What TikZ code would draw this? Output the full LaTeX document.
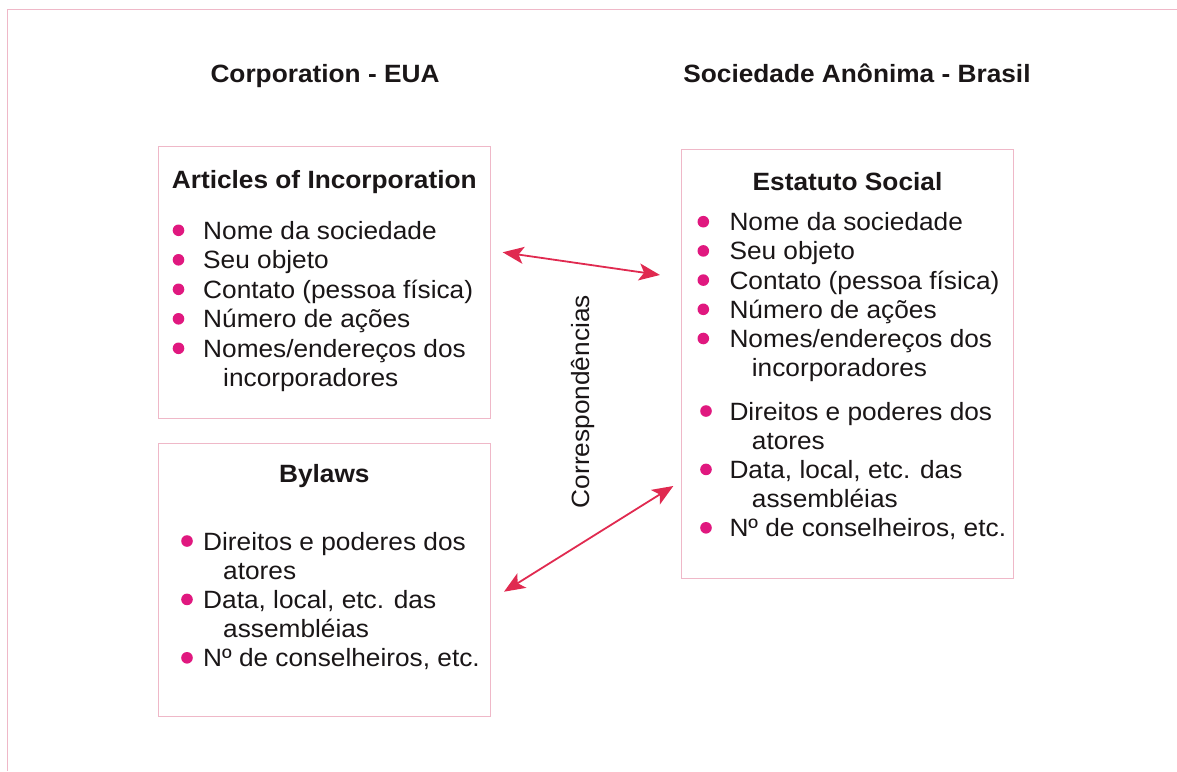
\documentclass[tikz,border=0pt]{standalone}
\usepackage{fontspec}
\setmainfont{Liberation Sans}[FakeStretch=1.05]
\usepackage{tikz}
\usetikzlibrary{positioning,arrows.meta}
\definecolor{boxpink}{HTML}{EFB8C8}
\definecolor{dotpink}{HTML}{E0187F}
\definecolor{arrowred}{HTML}{E02A50}
\definecolor{txt}{HTML}{1A1617}

\begin{document}
\begin{tikzpicture}[x=1pt,y=-1pt,font=\fontsize{25}{29}\selectfont,text=txt]
    \tikzstyle{head}=[font=\fontsize{25}{29}\selectfont\bfseries, inner sep=0pt, anchor=base]
    \tikzstyle{box}=[draw=boxpink, line width=0.8pt, inner sep=0pt, outer sep=0pt, minimum width=332pt, anchor=north west]
    \tikzstyle{boxtitle}=[font=\fontsize{25}{29}\selectfont\bfseries, inner sep=0pt, anchor=base]
    \tikzstyle{item}=[inner sep=0pt, anchor=base west]
    \tikzstyle{dot}=[fill=dotpink]
    \tikzstyle{corr}=[draw=arrowred, line width=1.8pt, {Stealth[length=21pt,width=17pt,inset=5pt]}-{Stealth[length=21pt,width=17pt,inset=5pt]}]
    \useasboundingbox (0,0) rectangle (1177,771);

    % Frame
    \draw[boxpink, line width=0.8pt] (7.3,771) -- (7.3,9.3) -- (1177,9.3);

    % Headings
    \node[head] (eua) at (325,82.3) {Corporation - EUA};
    \node[head] (brasil) at (857,82.3) {Sociedade Anônima - Brasil};

    % Boxes
    \node[box, minimum height=271.6pt] (articles) at (158.3,146.7) {};
    \node[box, minimum height=272.7pt] (bylaws) at (158.3,443.3) {};
    \node[box, minimum width=331.6pt, minimum height=429pt] (estatuto) at (681.7,149.3) {};

    \node[boxtitle] (articlestitle) at ([yshift=-41.3pt]articles.north) {Articles of Incorporation};
    \node[boxtitle] (bylawstitle) at ([yshift=-38.7pt]bylaws.north) {Bylaws};
    \node[boxtitle] (estatutotitle) at ([yshift=-40.7pt]estatuto.north) {Estatuto Social};

    % Articles of Incorporation
    \node[item] (nome) at (203,239.3) {Nome da sociedade};
    \node[item] (objeto) at ([yshift=-29.5pt]nome.base west) {Seu objeto};
    \node[item] (contato) at ([yshift=-29.5pt]objeto.base west) {Contato (pessoa física)};
    \node[item] (acoes) at ([yshift=-29.5pt]contato.base west) {Número de ações};
    \node[item] (nomes) at ([yshift=-29.5pt]acoes.base west) {Nomes/endereços dos};
    \node[item] (incorp) at ([xshift=20pt,yshift=-29.5pt]nomes.base west) {incorporadores};

    % Bylaws
    \node[item] (direitos) at (203,550) {Direitos e poderes dos};
    \node[item] (atores) at ([xshift=20pt,yshift=-29.2pt]direitos.base west) {atores};
    \node[item] (data) at ([yshift=-58.4pt]direitos.base west) {Data, local, etc. das};
    \node[item] (assemb) at ([xshift=20pt,yshift=-29.2pt]data.base west) {assembléias};
    \node[item] (conselho) at ([yshift=-58.4pt]data.base west) {Nº de conselheiros, etc.};

    % Estatuto Social
    \node[item] (enome) at (729.3,230.7) {Nome da sociedade};
    \node[item] (eobjeto) at ([yshift=-29.2pt]enome.base west) {Seu objeto};
    \node[item] (econtato) at ([yshift=-29.2pt]eobjeto.base west) {Contato (pessoa física)};
    \node[item] (eacoes) at ([yshift=-29.2pt]econtato.base west) {Número de ações};
    \node[item] (enomes) at ([yshift=-29.2pt]eacoes.base west) {Nomes/endereços dos};
    \node[item] (eincorp) at ([xshift=22.4pt,yshift=-29.2pt]enomes.base west) {incorporadores};
    \node[item] (edireitos) at ([yshift=-72.5pt]enomes.base west) {Direitos e poderes dos};
    \node[item] (eatores) at ([xshift=22.4pt,yshift=-29.2pt]edireitos.base west) {atores};
    \node[item] (edata) at ([yshift=-58.4pt]edireitos.base west) {Data, local, etc. das};
    \node[item] (eassemb) at ([xshift=22.4pt,yshift=-29.2pt]edata.base west) {assembléias};
    \node[item] (econselho) at ([yshift=-58.4pt]edata.base west) {Nº de conselheiros, etc.};

    % Bullets
    \fill[dot] ([xshift=-24.5pt,yshift=9pt]nome.base west) circle (5.8pt);
    \fill[dot] ([xshift=-24.5pt,yshift=9pt]objeto.base west) circle (5.8pt);
    \fill[dot] ([xshift=-24.5pt,yshift=9pt]contato.base west) circle (5.8pt);
    \fill[dot] ([xshift=-24.5pt,yshift=9pt]acoes.base west) circle (5.8pt);
    \fill[dot] ([xshift=-24.5pt,yshift=9pt]nomes.base west) circle (5.8pt);

    \fill[dot] ([xshift=-16pt,yshift=9pt]direitos.base west) circle (5.8pt);
    \fill[dot] ([xshift=-16pt,yshift=9pt]data.base west) circle (5.8pt);
    \fill[dot] ([xshift=-16pt,yshift=9pt]conselho.base west) circle (5.8pt);

    \fill[dot] ([xshift=-26pt,yshift=9pt]enome.base west) circle (5.8pt);
    \fill[dot] ([xshift=-26pt,yshift=9pt]eobjeto.base west) circle (5.8pt);
    \fill[dot] ([xshift=-26pt,yshift=9pt]econtato.base west) circle (5.8pt);
    \fill[dot] ([xshift=-26pt,yshift=9pt]eacoes.base west) circle (5.8pt);
    \fill[dot] ([xshift=-26pt,yshift=9pt]enomes.base west) circle (5.8pt);
    \fill[dot] ([xshift=-23.3pt,yshift=9pt]edireitos.base west) circle (5.8pt);
    \fill[dot] ([xshift=-23.3pt,yshift=9pt]edata.base west) circle (5.8pt);
    \fill[dot] ([xshift=-23.3pt,yshift=9pt]econselho.base west) circle (5.8pt);

    % Correspondences
    \node[inner sep=0pt, rotate=90, anchor=base] (corresp) at (589,401.7) {Correspondências};
    \coordinate (aup) at (502.7,252.3);
    \coordinate (eup) at (660,275);
    \coordinate (alow) at (504,591.7);
    \coordinate (elow) at (673.3,486);
    \draw[corr] (aup) -- (eup);
    \draw[corr] (alow) -- (elow);
\end{tikzpicture}
\end{document}
